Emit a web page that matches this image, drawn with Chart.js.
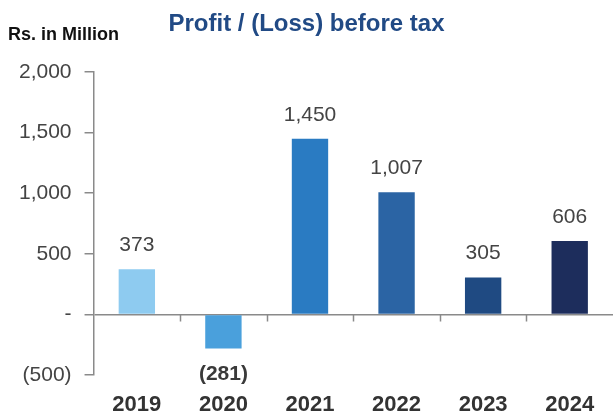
<!doctype html>
<html lang="en">
    <head>
        <meta charset="UTF-8" />
        <title>Profit / (Loss) before tax</title>
        <script src="https://cdn.jsdelivr.net/npm/chart.js"></script>
        <style>
            body {
                margin: 0;
                background: #fff;
                font-family: "Liberation Sans", Arial, sans-serif;
            }

            #wrap {
                position: relative;
                width: 613px;
                height: 420px;
            }

            #unit {
                position: absolute;
                left: 8px;
                top: 24px;
                font-size: 18px;
                font-weight: bold;
                color: #111;
            }

            #title {
                position: absolute;
                left: 0;
                width: 613px;
                top: 9px;
                text-align: center;
                font-size: 24px;
                font-weight: bold;
                color: #214a85;
            }
        </style>
    </head>
    <body>
        <div id="wrap">
            <canvas id="chart"></canvas>
            <div id="unit">Rs. in Million</div>
            <div id="title">Profit / (Loss) before tax</div>
        </div>

        <script>
            const years = ["2019", "2020", "2021", "2022", "2023", "2024"];
            const profitBeforeTax = [373, -281, 1450, 1007, 305, 606];
            const barColors = [
                "#8ecbf0",
                "#4aa0dc",
                "#2a7bc2",
                "#2b64a4",
                "#1f4a82",
                "#1d2d5c",
            ];
            const yMin = -500;
            const yMax = 2000;
            const yStep = 500;

            /*** * * ***/

            // 1,450 style, negatives in brackets, zero as a dash
            function fmt(v) {
                if (v === 0) return "-";
                const s = Math.abs(v).toLocaleString("en-US");
                return v < 0 ? `(${s})` : s;
            }

            const axisGray = "#8a8a8a";

            // value above (or below) each bar
            const valueLabels = {
                id: "valueLabels",
                afterDatasetsDraw(chart) {
                    const ctx = chart.ctx;
                    const meta = chart.getDatasetMeta(0);
                    ctx.save();
                    ctx.textAlign = "center";
                    ctx.textBaseline = "alphabetic";
                    meta.data.forEach((bar, i) => {
                        const v = profitBeforeTax[i];
                        if (v < 0) {
                            ctx.font = "bold 21px 'Liberation Sans', Arial, sans-serif";
                            ctx.fillStyle = "#3a3a3a";
                            ctx.fillText(fmt(v), bar.x, bar.y + 32);
                        } else {
                            ctx.font = "21px 'Liberation Sans', Arial, sans-serif";
                            ctx.fillStyle = "#444";
                            ctx.fillText(fmt(v), bar.x, bar.y - 18);
                        }
                    });
                    ctx.restore();
                },
            };

            // short separators hanging under the zero line between years
            const categoryTicks = {
                id: "categoryTicks",
                afterDraw(chart) {
                    const { ctx, scales } = chart;
                    const y0 = scales.y.getPixelForValue(0);
                    ctx.save();
                    ctx.strokeStyle = axisGray;
                    ctx.lineWidth = 1.5;
                    ctx.beginPath();
                    for (let i = 1; i < years.length; i++) {
                        const x = Math.round(scales.x.getPixelForValue(i - 0.5)) + 0.5;
                        ctx.moveTo(x, y0);
                        ctx.lineTo(x, y0 + 7);
                    }
                    ctx.stroke();
                    ctx.restore();
                },
            };

            new Chart(document.getElementById("chart"), {
                type: "bar",
                data: {
                    labels: years,
                    datasets: [
                        {
                            data: profitBeforeTax,
                            backgroundColor: barColors,
                            borderWidth: 0,
                            barPercentage: 0.42,
                            categoryPercentage: 1,
                        },
                    ],
                },
                options: {
                    responsive: true,
                    maintainAspectRatio: false,
                    animation: false,
                    layout: {
                        padding: { top: 72, bottom: 2, left: 6, right: 0 },
                    },
                    plugins: {
                        legend: { display: false },
                        tooltip: { enabled: false },
                    },
                    scales: {
                        y: {
                            min: yMin,
                            max: yMax,
                            ticks: {
                                stepSize: yStep,
                                padding: 13,
                                color: "#444",
                                font: { family: "Liberation Sans", size: 21 },
                                callback: (v) => fmt(v),
                            },
                            grid: {
                                drawOnChartArea: true,
                                color: (c) =>
                                    c.tick && c.tick.value === 0
                                        ? axisGray
                                        : "rgba(0,0,0,0)",
                                lineWidth: 1.5,
                                tickLength: 9,
                                tickColor: axisGray,
                                tickWidth: 1.5,
                            },
                            border: { color: axisGray, width: 1.5 },
                        },
                        x: {
                            offset: true,
                            grid: { display: false, drawTicks: false },
                            border: { display: false },
                            ticks: {
                                padding: 17,
                                color: "#333",
                                font: {
                                    family: "Liberation Sans",
                                    size: 22,
                                    weight: "bold",
                                },
                            },
                            afterFit: (scale) => {
                                scale.height = 43;
                            },
                        },
                    },
                },
                plugins: [valueLabels, categoryTicks],
            });
        </script>
    </body>
</html>
